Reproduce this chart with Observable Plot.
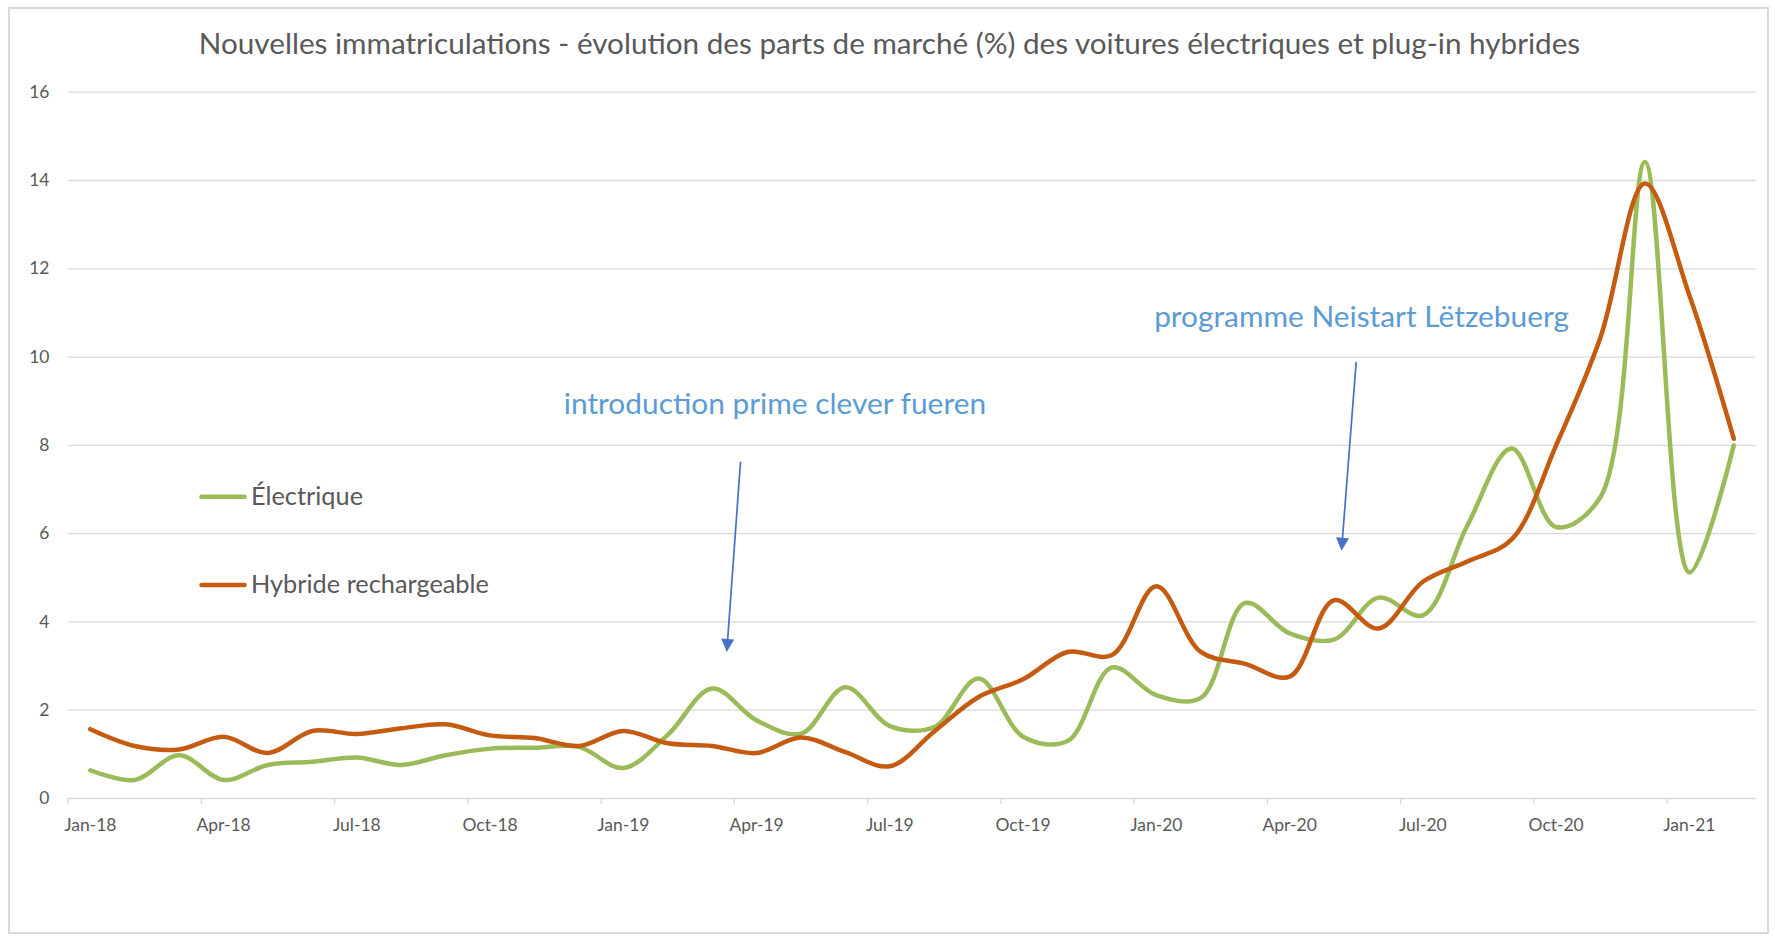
<!DOCTYPE html>
<html>
<head>
<meta charset="utf-8">
<script src="https://cdn.jsdelivr.net/npm/d3@7"></script>
<script src="https://cdn.jsdelivr.net/npm/@observablehq/plot@0.6"></script>
<style>
  body { margin: 0; background: #fff; }
  #wrap { position: relative; width: 1775px; height: 936px; overflow: hidden; background: #fff; font-family: Lato, "Open Sans", sans-serif; }
  #frame { position: absolute; left: 8px; top: 7px; width: 1761px; height: 927px; border: 2.5px solid #D9D9D9; box-sizing: border-box; }
  #chart { position: absolute; left: 0; top: 0; }
  #overlay { position: absolute; left: 0; top: 0; pointer-events: none; }
</style>
</head>
<body>
<div id="wrap">
  <div id="frame"></div>
  <div id="chart"></div>
  <svg id="overlay" width="1775" height="936"></svg>
</div>
<script>
// ---------------- data ----------------
const title = "Nouvelles immatriculations - évolution des parts de marché (%) des voitures électriques et plug-in hybrides";

const months = [
  "Jan-18","Feb-18","Mar-18","Apr-18","May-18","Jun-18","Jul-18","Aug-18","Sep-18","Oct-18","Nov-18","Dec-18",
  "Jan-19","Feb-19","Mar-19","Apr-19","May-19","Jun-19","Jul-19","Aug-19","Sep-19","Oct-19","Nov-19","Dec-19",
  "Jan-20","Feb-20","Mar-20","Apr-20","May-20","Jun-20","Jul-20","Aug-20","Sep-20","Oct-20","Nov-20","Dec-20",
  "Jan-21","Feb-21"
];

const electrique = [
  0.64, 0.42, 0.98, 0.42, 0.76, 0.83, 0.93, 0.76, 0.98, 1.13, 1.15, 1.17,
  0.69, 1.44, 2.49, 1.77, 1.47, 2.52, 1.64, 1.62, 2.72, 1.40, 1.30, 2.97,
  2.34, 2.28, 4.43, 3.74, 3.60, 4.55, 4.15, 6.18, 7.93, 6.15, 6.83, 14.42,
  5.12, 8.00
];

const hybride = [
  1.57, 1.19, 1.11, 1.40, 1.03, 1.53, 1.46, 1.59, 1.68, 1.43, 1.37, 1.19,
  1.53, 1.25, 1.19, 1.03, 1.38, 1.05, 0.73, 1.52, 2.30, 2.70, 3.32, 3.25,
  4.81, 3.32, 3.05, 2.76, 4.49, 3.85, 4.91, 5.37, 5.87, 8.00, 10.45, 13.93,
  11.40, 8.15
];

const seriesNames = ["Électrique", "Hybride rechargeable"];
const seriesColors = ["#9BBB59", "#C55A11"];
const yTicks = [0, 2, 4, 6, 8, 10, 12, 14, 16];
const xLabelStep = 3;

const annotations = [
  { text: "introduction prime clever fueren", x: 10.66, y: 8.70, x1: 14.65, y1: 7.62, x2: 14.34, y2: 3.31 },
  { text: "programme Neistart Lëtzebuerg",    x: 23.95, y: 10.67, x1: 28.51, y1: 9.88, x2: 28.18, y2: 5.60 }
];

// ---------------- build table ----------------
const rows = [];
[electrique, hybride].forEach((vals, k) => {
  vals.forEach((v, i) => rows.push({ i, month: months[i], value: v, series: seriesNames[k] }));
});
const labelIdx = months.map((m, i) => i).filter(i => i % xLabelStep === 0);
const boundaries = labelIdx.map(i => i - 0.5);

// ---------------- font fitting ----------------
const FONT = "Lato, 'Open Sans', sans-serif";
const ctx = document.createElement("canvas").getContext("2d");
function fit(text, width) { ctx.font = `100px ${FONT}`; return 100 * width / ctx.measureText(text).width; }
const tickFs = (fit("Jan-18", 53) + fit("16", 20)) / 2;
const titleFs = fit(title, 1383);
const legendFs = fit("Hybride rechargeable", 238);
const annFs = fit(annotations[0].text, 423);

// ---------------- arrows (custom render mark) ----------------
function arrowsMark(index, scales) {
  const g = d3.create("svg:g");
  for (const a of annotations) {
    const x1 = scales.x(a.x1), y1 = scales.y(a.y1), x2 = scales.x(a.x2), y2 = scales.y(a.y2);
    const dx = x2 - x1, dy = y2 - y1, L = Math.hypot(dx, dy), ux = dx / L, uy = dy / L;
    const head = 13, hw = 6.5;
    const bx = x2 - ux * head, by = y2 - uy * head;
    g.append("line")
      .attr("x1", x1).attr("y1", y1).attr("x2", bx + ux * 2).attr("y2", by + uy * 2)
      .attr("stroke", "#4472C4").attr("stroke-width", 1.7);
    g.append("path")
      .attr("d", `M${x2},${y2}L${bx - uy * hw},${by + ux * hw}L${bx + uy * hw},${by - ux * hw}Z`)
      .attr("fill", "#4472C4");
  }
  return g.node();
}

// ---------------- plot ----------------
const W = 1775, H = 936;
const chart = Plot.plot({
  width: W, height: H,
  marginLeft: 67.6, marginRight: 19.5, marginTop: 91.7, marginBottom: 138,
  x: { type: "linear", domain: [-0.5, months.length - 0.5], label: null },
  y: { domain: [0, 16], label: null },
  color: { domain: seriesNames, range: seriesColors },
  style: { fontFamily: FONT, color: "#595959", background: "transparent", overflow: "visible" },
  marks: [
    Plot.gridY(yTicks, { stroke: "#D9D9D9", strokeOpacity: 1, strokeWidth: 1.3 }),
    Plot.axisY(yTicks, { tickSize: 0, tickPadding: 18.6, fontSize: tickFs, fill: "#595959", label: null, tickFormat: d => String(d) }),
    Plot.axisX(boundaries, { tickSize: 6, stroke: "#D9D9D9", strokeOpacity: 1, strokeWidth: 1.3, label: null, tickFormat: () => "" }),
    Plot.axisX(labelIdx, { tickSize: 0, tickPadding: 20, fontSize: tickFs, fill: "#595959", label: null, tickFormat: i => months[i] }),
    Plot.line(rows, { x: "i", y: "value", z: "series", stroke: "series", strokeWidth: 4.5, curve: "catmull-rom", strokeLinecap: "round", strokeLinejoin: "round" }),
    Plot.text(annotations, { x: "x", y: "y", text: "text", textAnchor: "start", lineAnchor: "bottom", fill: "#5B9BD5", fontSize: annFs }),
    arrowsMark
  ]
});
document.getElementById("chart").appendChild(chart);

// ---------------- title & legend ----------------
const ov = d3.select("#overlay");
ov.append("text")
  .attr("x", 889.5).attr("y", 54).attr("text-anchor", "middle")
  .attr("font-family", FONT).attr("font-size", titleFs).attr("fill", "#595959")
  .text(title);

const legendY = [496.7, 585];
seriesNames.forEach((name, k) => {
  const y = legendY[k];
  ov.append("line")
    .attr("x1", 201.5).attr("x2", 244.5).attr("y1", y).attr("y2", y)
    .attr("stroke", seriesColors[k]).attr("stroke-width", 4.5).attr("stroke-linecap", "round");
  ov.append("text")
    .attr("x", 251).attr("y", y + 7.8)
    .attr("font-family", FONT).attr("font-size", legendFs).attr("fill", "#595959")
    .text(name);
});
</script>
</body>
</html>
